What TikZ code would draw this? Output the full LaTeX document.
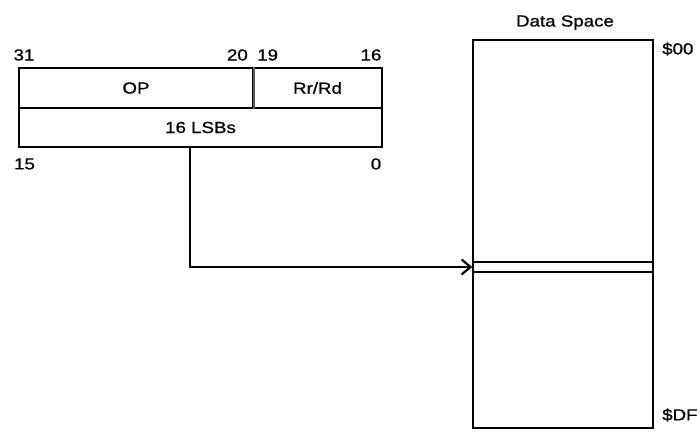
\documentclass[tikz,border=0pt]{standalone}
\usepackage{fontspec}
\setmainfont[FakeStretch=1.17, FakeBold=0.8]{Liberation Sans}
\usetikzlibrary{arrows.meta, positioning}

\begin{document}
\begin{tikzpicture}[x=1pt, y=-1pt, font=\fontsize{16}{18}\selectfont,
    field/.style={draw, line width=2.2pt, minimum height=40pt, inner sep=0pt},
    bitno/.style={inner sep=0pt},
    >={Straight Barb[length=9pt, width=15pt, line width=2.2pt]}]
    \useasboundingbox (0,0) rectangle (700,433);

    % Instruction word
    \node[field, minimum width=234pt] (op) at (136,88) {OP};
    \node[field, minimum width=129pt] (rr) at (317.5,88) {Rr/Rd};
    \node[field, minimum width=363pt, minimum height=39pt] (lsb) at (200.5,127.5) {16 LSBs};
    \draw[line width=2.2pt, white] (op.north east) -- (op.south east);
    \draw[line width=1.4pt, gray!70!black] (op.north east) -- (op.south east);

    % Bit numbers
    \node[bitno] (b31) at (24,55) {31};
    \node[bitno, anchor=east] (b20) at (248,55) {20};
    \node[bitno, anchor=west] (b19) at (257,55) {19};
    \node[bitno] (b16) at (371,55) {16};
    \node[bitno] (b15) at (24.5,164) {15};
    \node[bitno] (b0) at (376,164) {0};

    % Data space
    \node[draw, line width=2.4pt, minimum width=180pt, minimum height=388pt] (mem) at (563,234) {};
    \node[anchor=base] (title) at (565,26.5) {Data Space};
    \node[draw, line width=1.4pt, minimum width=180pt, minimum height=10pt] (cell) at (563,267) {};
    \node[bitno, anchor=west] (top) at (662,49) {\$00};
    \node[bitno, anchor=west] (bot) at (662,415) {\$DF};

    % Address
    \coordinate (tap) at (190,147);
    \draw[->, line width=2.2pt] (tap) |- (cell.west);
\end{tikzpicture}
\end{document}
